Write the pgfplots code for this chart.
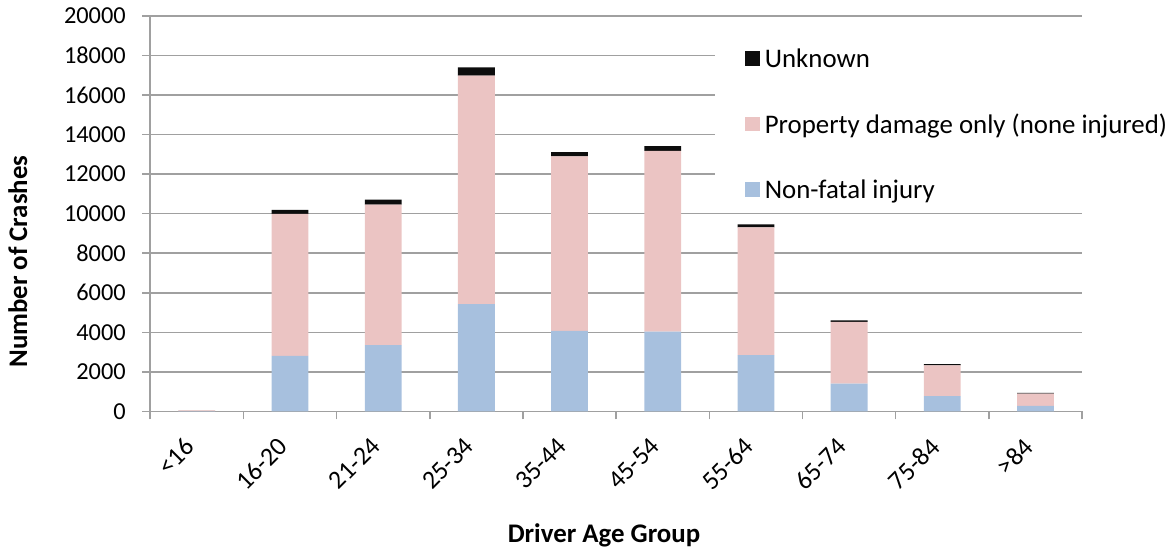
\documentclass[border=0pt]{standalone}
\usepackage{fontspec}
\setmainfont{Carlito}
\usepackage{pgfplots}
\pgfplotsset{compat=1.18}

\definecolor{injury}{HTML}{A7C0DE}
\definecolor{property}{HTML}{EBC4C3}
\definecolor{unknown}{HTML}{0D0D0D}
\definecolor{gridgray}{HTML}{A0A0A0}

% crashes by driver age group and severity
\pgfplotstableread{
idx injury property unknown
0   20     30      10
1   2816   7177    200
2   3354   7106    252
3   5431   11552   417
4   4073   8821    216
5   4043   9132    237
6   2851   6452    151
7   1408   3118    85
8   774    1559    65
9   287    618     35
}\crashdata

\begin{document}
\begin{tikzpicture}
\begin{axis}[
  scale only axis, width=937pt, height=397.7pt,
  ybar stacked, bar width=37pt,
  xmin=-0.5, xmax=9.5, ymin=0, ymax=20000,
  axis x line*=bottom, axis y line*=left,
  axis line style={draw=gridgray, line width=1.5pt, -},
  xtick={0,...,9},
  xticklabels={<16,16-20,21-24,25-34,35-44,45-54,55-64,65-74,75-84,>84},
  minor xtick={-0.5,0.5,...,9.5},
  major x tick style={draw=none},
  minor x tick style={draw=gridgray, line width=1.5pt},
  minor tick length=8pt,
  ytick={0,2000,...,20000},
  major y tick style={draw=gridgray, line width=1.5pt},
  major tick length=8pt,
  tick align=outside,
  ymajorgrids, grid style={draw=gridgray, line width=1.5pt},
  scaled y ticks=false,
  /pgf/number format/assume math mode=true,
  yticklabel style={/pgf/number format/1000 sep={}, font=\fontsize{24.5}{29}\selectfont, xshift=-13pt},
  xticklabel style={font=\fontsize{26}{31}\selectfont, rotate=45, anchor=north east, yshift=1pt, xshift=-18pt},
  xlabel={\textbf{Driver Age Group}},
  ylabel={\textbf{Number of Crashes}},
  every axis x label/.style={at={(axis description cs:0.487,-0.313)}, anchor=center, font=\fontsize{27}{32}\selectfont},
  every axis y label/.style={at={(axis description cs:-0.142,0.379)}, anchor=center, rotate=90, font=\fontsize{27}{32}\selectfont},
  legend style={at={(axis description cs:0.606,0.942)}, anchor=north west,
    draw=none, fill=white, font=\fontsize{27}{32}\selectfont,
    row sep=41pt, inner xsep=6pt, inner ysep=8pt, cells={anchor=west}},
  reverse legend,
  legend image code/.code={\path (-24pt,0pt) (18pt,0pt); \fill[#1] (0pt,-7pt) rectangle (15pt,8pt);},
  % page margins around the plot area
  extra description/.code={\path (0,0) ++(-151pt,-134.3pt); \path (1,1) ++(87pt,16pt);},
]
\addplot[fill=injury, draw=none] table[x=idx, y=injury] {\crashdata};
\addlegendentry{Non-fatal injury}
\addplot[fill=property, draw=none] table[x=idx, y=property] {\crashdata};
\addlegendentry{Property damage only (none injured)}
\addplot[fill=unknown, draw=none] table[x=idx, y=unknown] {\crashdata};
\addlegendentry{Unknown}
\end{axis}
\end{tikzpicture}
\end{document}
